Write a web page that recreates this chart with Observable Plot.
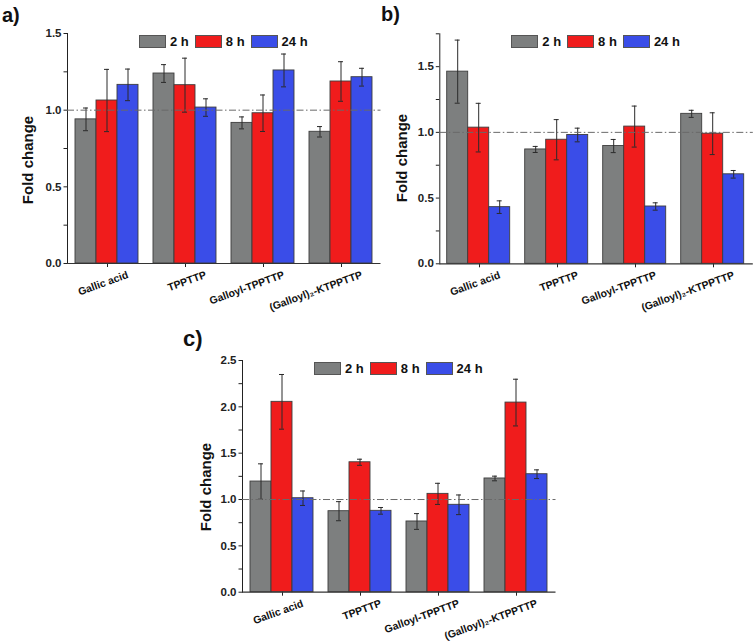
<!DOCTYPE html>
<html>
<head>
<meta charset="utf-8">
<script src="https://cdn.jsdelivr.net/npm/d3@7"></script>
<script src="https://cdn.jsdelivr.net/npm/@observablehq/plot@0.6"></script>
<style>
html, body { margin: 0; padding: 0; background: #fff; }
#root { position: relative; width: 756px; height: 643px; overflow: hidden;
  font-family: "Liberation Sans", Arial, sans-serif; font-weight: bold; color: #111; }
.layer { position: absolute; }
.letter { position: absolute; line-height: 1; }
.ylabel { position: absolute; font-size: 15px; line-height: 1; white-space: nowrap;
  transform: translate(-50%, -50%) rotate(-90deg); }
.legend { position: absolute; display: flex; align-items: center; font-size: 13px; line-height: 1; }
.sw { display: inline-block; width: 27px; height: 13px; box-sizing: border-box; border: 1px solid #555; }
.lt { margin-left: 4px; margin-right: 6px; }
</style>
</head>
<body>
<div id="root"></div>
<script>
// ---- data ----
const categories = ["Gallic acid", "TPPTTP", "Galloyl-TPPTTP", "(Galloyl)\u2082-KTPPTTP"];
const series = ["2 h", "8 h", "24 h"];
const colors = ["#7d7f7f", "#f01c1c", "#3a4de8"];

// panel a
const a2h = [0.94, 1.239, 0.917, 0.859];
const a8h = [1.063, 1.163, 0.98, 1.187];
const a24h = [1.165, 1.017, 1.259, 1.215];
const a2hErr = [0.074, 0.058, 0.039, 0.034];
const a8hErr = [0.203, 0.176, 0.119, 0.129];
const a24hErr = [0.103, 0.057, 0.107, 0.058];

// panel b
const b2h = [1.462, 0.87, 0.896, 1.141];
const b8h = [1.036, 0.944, 1.044, 0.99];
const b24h = [0.431, 0.98, 0.436, 0.681];
const b2hErr = [0.24, 0.023, 0.05, 0.027];
const b8hErr = [0.185, 0.153, 0.156, 0.159];
const b24hErr = [0.048, 0.052, 0.028, 0.029];

// panel c
const c2h = [1.194, 0.874, 0.763, 1.227];
const c8h = [2.054, 1.402, 1.061, 2.046];
const c24h = [1.014, 0.878, 0.943, 1.273];
const c2hErr = [0.191, 0.103, 0.085, 0.025];
const c8hErr = [0.295, 0.033, 0.114, 0.252];
const c24hErr = [0.078, 0.036, 0.106, 0.047];

function buildRows(means, errs) {
  return categories.flatMap((cat, i) => series.map((s, j) => ({
    cat, series: s, mean: means[j][i],
    lo: means[j][i] - errs[j][i], hi: means[j][i] + errs[j][i]
  })));
}

const panels = [
  { letter: "a)", rows: buildRows([a2h, a8h, a24h], [a2hErr, a8hErr, a24hErr]), yMax: 1.5,
    left: 0, top: 0, width: 384, height: 313, ml: 67, mr: 3.5, mt: 33, mb: 50,
    letterPos: [2, 5, 20], ylab: [27, 160] },
  { letter: "b)", rows: buildRows([b2h, b8h, b24h], [b2hErr, b8hErr, b24hErr]), yMax: 1.75,
    left: 376, top: 0, width: 380, height: 313, ml: 63.3, mr: 3.2, mt: 33.3, mb: 49.7,
    letterPos: [381, 4, 20], ylab: [401, 158] },
  { letter: "c)", rows: buildRows([c2h, c8h, c24h], [c2hErr, c8hErr, c24hErr]), yMax: 2.5,
    left: 150, top: 320, width: 410, height: 322, ml: 92, mr: 4.5, mt: 40, mb: 50.3,
    letterPos: [183, 328, 22], ylab: [205, 487] }
];

const root = document.getElementById("root");
const fontFamily = "Liberation Sans, Arial, sans-serif";
const labelAngle = -20;

for (const p of panels) {
  const yTicks = d3.range(0, p.yMax + 1e-9, 0.25);
  const fmt = d => Math.abs(d * 2 - Math.round(d * 2)) < 1e-9 ? d.toFixed(1) : "";

  // bars layer (faceted by category)
  const bars = Plot.plot({
    width: p.width, height: p.height,
    marginLeft: p.ml, marginRight: p.mr, marginTop: p.mt, marginBottom: p.mb,
    style: { background: "transparent", overflow: "visible" },
    fx: { domain: categories, paddingInner: 0.19, paddingOuter: 0.095, axis: null, label: null },
    x: { domain: series, padding: 0, axis: null },
    y: { domain: [0, p.yMax], axis: null },
    color: { domain: series, range: colors },
    marks: [
      Plot.barY(p.rows, { fx: "cat", x: "series", y: "mean", fill: "series", stroke: "#3d3d3d", strokeWidth: 0.9 }),
      Plot.ruleX(p.rows, { fx: "cat", x: "series", y1: "lo", y2: "hi", stroke: "#2a2a2a", strokeWidth: 1 }),
      Plot.tickY(p.rows, { fx: "cat", x: "series", y: "lo", insetLeft: 8, insetRight: 8, stroke: "#2a2a2a", strokeWidth: 1 }),
      Plot.tickY(p.rows, { fx: "cat", x: "series", y: "hi", insetLeft: 8, insetRight: 8, stroke: "#2a2a2a", strokeWidth: 1 })
    ]
  });

  // axes layer
  const axes = Plot.plot({
    width: p.width, height: p.height,
    marginLeft: p.ml, marginRight: p.mr, marginTop: p.mt, marginBottom: p.mb,
    style: { background: "transparent", overflow: "visible", fontFamily, fontSize: "11.5px", fontWeight: "bold", color: "#222" },
    x: { type: "band", domain: categories, padding: 0, tickSize: 4, tickFormat: () => "", label: null },
    y: { domain: [0, p.yMax], ticks: yTicks, tickFormat: fmt, tickSize: 3.5, tickPadding: 2.5, label: null, line: true },
    marks: [
      Plot.ruleY([1], { stroke: "#6a6a6a", strokeWidth: 1, strokeDasharray: "7,2.5,1.5,2.5" }),
      Plot.ruleY([0], { stroke: "#333", strokeWidth: 1.2 }),
      Plot.text(categories, { x: d => d, text: d => d, frameAnchor: "bottom", textAnchor: "end", lineAnchor: "bottom",
        rotate: labelAngle, dx: 21.5, dy: 14, fontSize: 10.5, fontWeight: "bold", fill: "#111", fontFamily })
    ]
  });

  for (const svg of [bars, axes]) {
    svg.classList.add("layer");
    svg.style.left = p.left + "px";
    svg.style.top = p.top + "px";
    root.appendChild(svg);
  }

  // panel letter
  const L = document.createElement("div");
  L.className = "letter";
  L.textContent = p.letter;
  L.style.left = p.letterPos[0] + "px";
  L.style.top = p.letterPos[1] + "px";
  L.style.fontSize = p.letterPos[2] + "px";
  root.appendChild(L);

  // y label
  const Y = document.createElement("div");
  Y.className = "ylabel";
  Y.textContent = "Fold change";
  Y.style.left = p.ylab[0] + "px";
  Y.style.top = p.ylab[1] + "px";
  root.appendChild(Y);

  // legend
  const G = document.createElement("div");
  G.className = "legend";
  G.style.left = (p.left + p.ml + 72) + "px";
  G.style.top = (p.top + p.mt + 2) + "px";
  series.forEach((s, i) => {
    const sw = document.createElement("span");
    sw.className = "sw";
    sw.style.background = colors[i];
    const t = document.createElement("span");
    t.className = "lt";
    t.textContent = s;
    G.appendChild(sw);
    G.appendChild(t);
  });
  root.appendChild(G);
}
</script>
</body>
</html>
